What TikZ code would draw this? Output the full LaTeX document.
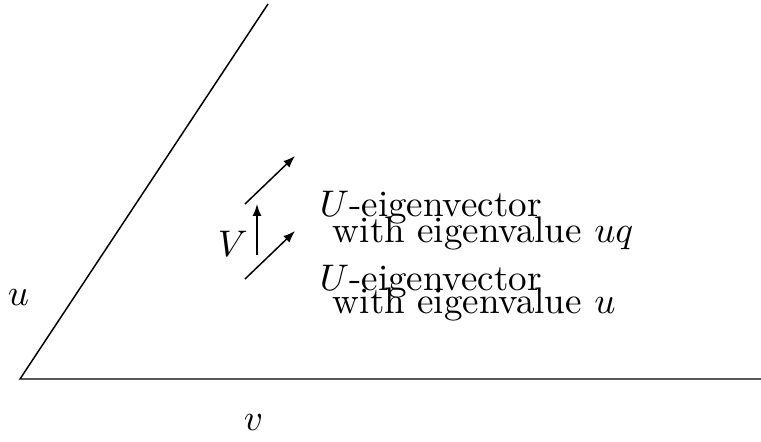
\documentclass[tikz,border=0pt]{standalone}
\usetikzlibrary{arrows.meta}
\begin{document}
\begin{tikzpicture}[x=0.27pt,y=-0.27pt,
  lbl/.style={anchor=base west,inner sep=0pt,outer sep=0pt},
  vec/.style={-{Latex[length=3.2pt,width=2.4pt]}}]
\useasboundingbox (0,0) rectangle (761,441);
\coordinate (O) at (20,379);
\coordinate (T) at (268,4);
\coordinate (R) at (761,379);
\draw (T) -- (O) -- (R);
\coordinate (a1) at (245,204);
\coordinate (a2) at (295,156);
\coordinate (b1) at (245,279);
\coordinate (b2) at (295,231);
\coordinate (c1) at (257,255);
\coordinate (c2) at (257,204);
\draw[vec] (a1) -- (a2);
\draw[vec] (b1) -- (b2);
\draw[vec] (c1) -- (c2);
\node[lbl] (V) at (218,256) {$V$};
\node[lbl] (u) at (8,305) {$u$};
\node[lbl] (v) at (244,430) {$v$};
\node[lbl] (t1) at (320,216) {$U$-eigenvector};
\node[lbl] (t2) at (333,242) {with eigenvalue $uq$};
\node[lbl] (t3) at (320,290) {$U$-eigenvector};
\node[lbl] (t4) at (333,313) {with eigenvalue $u$};
\end{tikzpicture}
\end{document}
